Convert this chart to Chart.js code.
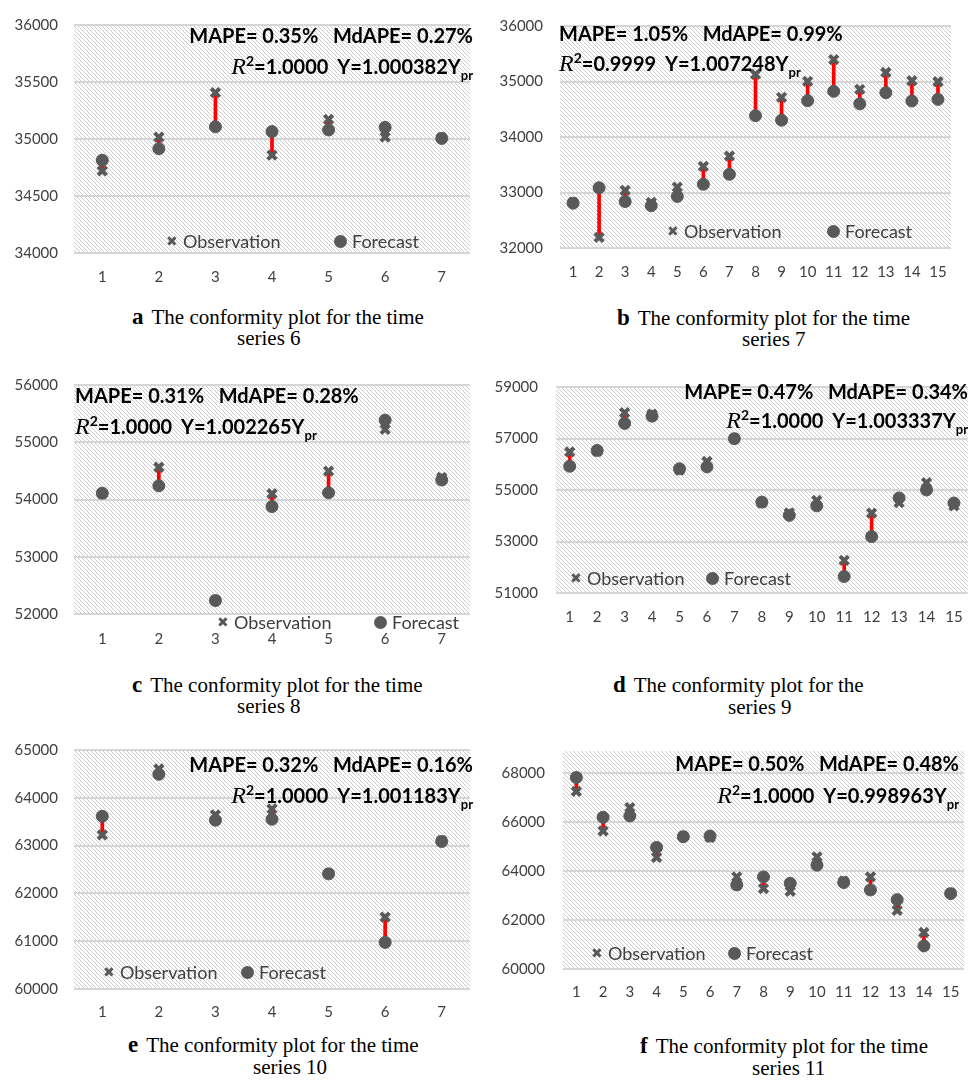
<!DOCTYPE html>
<html>
<head>
<meta charset="utf-8">
<script src="https://cdn.jsdelivr.net/npm/chart.js@4.4.1/dist/chart.umd.min.js"></script>
<style>
    body { margin: 0; background: #fff; width: 978px; height: 1085px; position: relative; overflow: hidden; font-family: Lato, sans-serif; }
    canvas { position: absolute; }
    .note { position: absolute; font: bold 20px Lato, sans-serif; color: #000; white-space: pre; line-height: 20px; }
    .note .r { font: italic 24px 'Liberation Serif', serif; }
    .note .sup { font-size: 14px; position: relative; top: -8px; }
    .note .sub { font-size: 13px; position: relative; top: 6px; }
    .leg { position: absolute; font: 18px Lato, sans-serif; color: #404040; line-height: 20px; white-space: pre; }
    .mk-obs { position: absolute; font: bold 14px 'DejaVu Sans', sans-serif; color: #595959; line-height: 14px; }
    .mk-fc { position: absolute; width: 13px; height: 13px; border-radius: 50%; background: #595959; }
    .cap { position: absolute; font: 21px 'Liberation Serif', serif; color: #000; white-space: pre; line-height: 22px; }
    .cap b { font-size: 23px; margin-right: 8px; }
</style>
</head>
<body>
<script>
// categories
const labels7 = ['1', '2', '3', '4', '5', '6', '7'];
const labels15 = ['1', '2', '3', '4', '5', '6', '7', '8', '9', '10', '11', '12', '13', '14', '15'];

// series 6
const obs6 = [34720, 35017, 35407, 34859, 35172, 35017, 35011];
const fc6 = [34814, 34915, 35107, 35065, 35079, 35102, 35005];
const ticks6 = [34000, 34500, 35000, 35500, 36000];

// series 7
const obs7 = [32820, 32190, 33039, 32820, 33097, 33472, 33657, 35128, 34713, 35001, 35394, 34857, 35163, 35013, 34996];
const fc7 = [32808, 33085, 32837, 32762, 32929, 33149, 33328, 34384, 34303, 34655, 34823, 34597, 34799, 34649, 34678];
const ticks7 = [32000, 33000, 34000, 35000, 36000];

// series 8
const obs8 = [54100, 54563, 52240, 54100, 54496, 55226, 54384];
const fc8 = [54111, 54240, 52234, 53877, 54117, 55387, 54340];
const ticks8 = [52000, 53000, 54000, 55000, 56000];

// series 9
const obs9 = [56477, 56500, 58003, 57942, 55775, 56108, 57000, 54500, 54114, 54594, 52268, 54102, 54508, 55283, 54385];
const fc9 = [55923, 56538, 57585, 57868, 55825, 55898, 56994, 54532, 54015, 54385, 51640, 53191, 54692, 55000, 54495];
const ticks9 = [51000, 53000, 55000, 57000, 59000];

// series 10
const obs10 = [63224, 64603, 63642, 63767, 62410, 61504, 63106];
const fc10 = [63614, 64492, 63531, 63551, 62409, 60975, 63085];
const ticks10 = [60000, 61000, 62000, 63000, 64000, 65000];

// series 11
const obs11 = [67248, 65634, 66591, 64554, 65420, 65374, 63761, 63282, 63173, 64581, 63583, 63761, 62393, 61491, 63100];
const fc11 = [67822, 66195, 66250, 64964, 65402, 65429, 63433, 63761, 63501, 64239, 63528, 63227, 62831, 60944, 63077];
const ticks11 = [60000, 62000, 64000, 66000, 68000];

const panels = [
    { x: 0, y: 0, area: [74, 17, 470, 253], xLabY: 277, yLabR: 58,
      labels: labels7, obs: obs6, fc: fc6, ticks: ticks6, min: 34000, max: 36000,
      note: { align: 'right', edge: 473, y1: 35, y2: 63, mape: '0.35%', mdape: '0.27%', r2: '1.0000', k: '1.000382' },
      legend: { y: 241, obs: 172, fc: 340 },
      cap: { letter: 'a', left: 132, y1: 317, left2: 237, y2: 338, text: 'The conformity plot for the time', text2: 'series 6' } },
    { x: 490, y: 0, area: [560, 17, 951, 248], xLabY: 272, yLabR: 543,
      labels: labels15, obs: obs7, fc: fc7, ticks: ticks7, min: 32000, max: 36000,
      note: { align: 'left', edge: 559, y1: 33, y2: 60, mape: '1.05%', mdape: '0.99%', r2: '0.9999', k: '1.007248' },
      legend: { y: 231, obs: 673, fc: 833 },
      cap: { letter: 'b', left: 617, y1: 318, left2: 742, y2: 339, text: 'The conformity plot for the time', text2: 'series 7' } },
    { x: 0, y: 360, area: [74, 375, 470, 614], xLabY: 639, yLabR: 58,
      labels: labels7, obs: obs8, fc: fc8, ticks: ticks8, min: 52000, max: 56000,
      note: { align: 'left', edge: 75, y1: 395, y2: 423, mape: '0.31%', mdape: '0.28%', r2: '1.0000', k: '1.002265' },
      legend: { y: 622, obs: 223, fc: 380 },
      cap: { letter: 'c', left: 132, y1: 685, left2: 237, y2: 706, text: 'The conformity plot for the time', text2: 'series 8' } },
    { x: 490, y: 360, area: [556, 377, 970, 593], xLabY: 617, yLabR: 538,
      labels: labels15, obs: obs9, fc: fc9, ticks: ticks9, min: 51000, max: 59000,
      note: { align: 'right', edge: 968, y1: 391, y2: 417, mape: '0.47%', mdape: '0.34%', r2: '1.0000', k: '1.003337' },
      legend: { y: 578, obs: 576, fc: 712 },
      cap: { letter: 'd', left: 613, y1: 685, left2: 728, y2: 707, text: 'The conformity plot for the', text2: 'series 9' } },
    { x: 0, y: 720, area: [74, 750, 470, 989], xLabY: 1012, yLabR: 58,
      labels: labels7, obs: obs10, fc: fc10, ticks: ticks10, min: 60000, max: 65000,
      note: { align: 'right', edge: 473, y1: 764, y2: 792, mape: '0.32%', mdape: '0.16%', r2: '1.0000', k: '1.001183' },
      legend: { y: 972, obs: 109, fc: 247 },
      cap: { letter: 'e', left: 128, y1: 1045, left2: 253, y2: 1067, text: 'The conformity plot for the time', text2: 'series 10' } },
    { x: 490, y: 720, area: [563, 751, 964, 969], xLabY: 992, yLabR: 545,
      labels: labels15, obs: obs11, fc: fc11, ticks: ticks11, min: 60000, max: 68900,
      note: { align: 'right', edge: 959, y1: 763, y2: 792, mape: '0.50%', mdape: '0.48%', r2: '1.0000', k: '0.998963' },
      legend: { y: 953, obs: 597, fc: 734 },
      cap: { letter: 'f', left: 640, y1: 1046, left2: 752, y2: 1068, text: 'The conformity plot for the time', text2: 'series 11' } }
];

// diagonal hatch tile for the plot area
const hatch = document.createElement('canvas');
hatch.width = 4; hatch.height = 4;
(function() {
    const g = hatch.getContext('2d');
    g.fillStyle = '#ffffff'; g.fillRect(0, 0, 4, 4);
    g.fillStyle = '#cccccc';
    for (let i = 0; i < 4; i++) g.fillRect(i, i, 1, 1);
})();

const hatchBg = {
    id: 'hatchBg',
    beforeDraw(chart) {
        const { ctx, chartArea: a } = chart;
        ctx.save();
        ctx.fillStyle = ctx.createPattern(hatch, 'repeat');
        ctx.fillRect(a.left, a.top, a.right - a.left, a.bottom - a.top);
        ctx.restore();
    }
};

Chart.defaults.font.family = 'Lato';

const CW = 488, CH = 300, XH = 30;

function el(cls, html, css) {
    const d = document.createElement('div');
    d.className = cls;
    d.innerHTML = html;
    Object.assign(d.style, css);
    document.body.appendChild(d);
    return d;
}

panels.forEach(p => {
    const [l, t, r, b] = p.area;
    const cv = document.createElement('canvas');
    cv.width = CW; cv.height = CH;
    cv.style.left = p.x + 'px'; cv.style.top = p.y + 'px';
    document.body.appendChild(cv);

    new Chart(cv, {
        type: 'bar',
        data: {
            labels: p.labels,
            datasets: [
                { type: 'bar', label: 'error', data: p.labels.map((_, i) => [p.obs[i], p.fc[i]]),
                  backgroundColor: '#ff0000', barThickness: 3, order: 3 },
                { type: 'line', label: 'Observation', data: p.obs, showLine: false, pointStyle: 'crossRot',
                  pointRadius: 6, pointBorderWidth: 4, pointBorderColor: '#595959', pointBackgroundColor: '#595959', order: 2 },
                { type: 'line', label: 'Forecast', data: p.fc, showLine: false, pointStyle: 'circle',
                  pointRadius: 6, pointBorderWidth: 1, pointBorderColor: '#595959', pointBackgroundColor: '#595959', order: 1 }
            ]
        },
        options: {
            responsive: false,
            animation: false,
            devicePixelRatio: 1,
            layout: { padding: { left: 0, top: t - p.y, right: p.x + CW - r, bottom: CH - (b - p.y) - XH } },
            plugins: { legend: { display: false }, tooltip: { enabled: false } },
            scales: {
                x: {
                    offset: true,
                    grid: { display: false, drawTicks: false },
                    border: { display: false },
                    ticks: { color: '#404040', font: { size: 15 }, padding: p.xLabY - b - 9, autoSkip: false, maxRotation: 0 },
                    afterFit: axis => { axis.height = XH; }
                },
                y: {
                    min: p.min, max: p.max,
                    afterBuildTicks: axis => { axis.ticks = p.ticks.map(v => ({ value: v })); },
                    grid: { color: '#d6d6d6', lineWidth: 2, drawTicks: false },
                    border: { display: false },
                    ticks: { color: '#404040', font: { size: 15 }, padding: l - p.yLabR, callback: v => String(v) },
                    afterFit: axis => { axis.width = l - p.x; }
                }
            }
        },
        plugins: [hatchBg]
    });

    // statistics box
    const n = p.note;
    const line1 = 'MAPE= ' + n.mape + '   MdAPE= ' + n.mdape;
    const line2 = '<span class="r">R</span><span class="sup">2</span>=' + n.r2 + '  Y=' + n.k + 'Y<span class="sub">pr</span>';
    const pos = n.align === 'right' ? { right: (978 - n.edge) + 'px' } : { left: n.edge + 'px' };
    el('note', line1, Object.assign({ top: (n.y1 - 10) + 'px', textAlign: n.align }, pos));
    el('note', line2, Object.assign({ top: (n.y2 - 10) + 'px', textAlign: n.align }, pos));

    // legend
    const g = p.legend;
    el('mk-obs', '\u2716', { left: (g.obs - 6) + 'px', top: (g.y - 7) + 'px' });
    el('leg', 'Observation', { left: (g.obs + 11) + 'px', top: (g.y - 10) + 'px' });
    el('mk-fc', '', { left: (g.fc - 6) + 'px', top: (g.y - 6) + 'px' });
    el('leg', 'Forecast', { left: (g.fc + 12) + 'px', top: (g.y - 10) + 'px' });

    // caption
    const c = p.cap;
    el('cap', '<b>' + c.letter + '</b>' + c.text, { left: c.left + 'px', top: (c.y1 - 11) + 'px' });
    el('cap', c.text2, { left: c.left2 + 'px', top: (c.y2 - 11) + 'px' });
});
</script>
</body>
</html>
